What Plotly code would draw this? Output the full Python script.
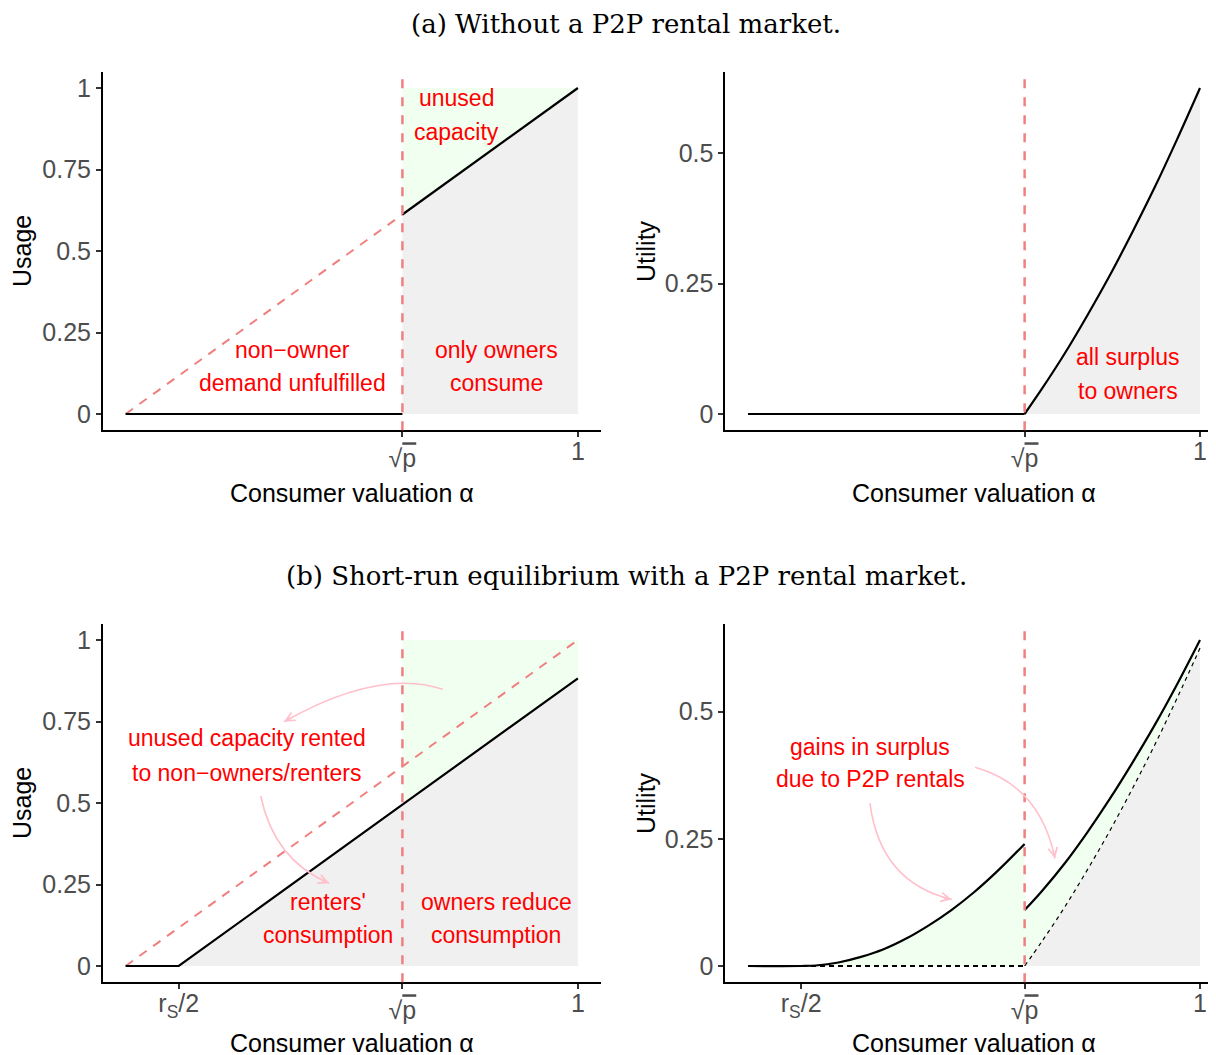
import math
import plotly.graph_objects as go

# page body adds an 8px margin; the figure is sized/positioned to compensate
OFF = 8
W, H = 1216 - OFF, 1055 - OFF

# ---------------- data ----------------
SQRT_P = 0.612        # position of the sqrt(p) tick
RS_HALF = 0.1175      # position of the r_S/2 tick
CAPACITY = 1.0

# (a) usage without P2P
usage_a_owner_x = [0.612, 1.0]
usage_a_owner_y = [0.612, 1.0]
usage_a_nonowner_x = [0.0, 0.612]
usage_a_nonowner_y = [0.0, 0.0]
demand_a_x = [0.0, 0.612]
demand_a_y = [0.0, 0.612]

# (a) utility without P2P
owner_alpha = [0.612, 0.65, 0.70, 0.75, 0.80, 0.85, 0.90, 0.95, 1.00]
owner_util_no_p2p = [0.0, 0.048, 0.115, 0.188, 0.265, 0.348, 0.435, 0.528, 0.625]
nonowner_util_x = [0.0, 0.612]
nonowner_util_y = [0.0, 0.0]

# (b) usage with P2P
usage_b_x = [0.0, 0.1175, 0.612, 1.0]
usage_b_y = [0.0, 0.0, 0.495, 0.8825]
demand_b_x = [0.0, 1.0]
demand_b_y = [0.0, 1.0]

# (b) utility with P2P
renter_alpha = [0.0, 0.1175, 0.15, 0.20, 0.25, 0.30, 0.35, 0.40, 0.45, 0.50, 0.55, 0.612]
renter_util = [0.0, 0.0, 0.001, 0.007, 0.018, 0.033, 0.054, 0.080, 0.110, 0.145, 0.185, 0.240]
owner_util_p2p = [0.110, 0.147, 0.201, 0.262, 0.328, 0.399, 0.474, 0.555, 0.641]

# tick labels
SQRT_P_LABEL = ("<span style='baseline-shift:-7px'>√"
                "<span style='text-decoration:overline'>p</span></span>")
x_ticks_a = [0.612, 1.0]
x_ticklabels_a = [SQRT_P_LABEL, "1"]
x_ticks_b = [0.1175, 0.612, 1.0]
x_ticklabels_b = ["r<sub>S</sub>/2", SQRT_P_LABEL, "1"]
y_ticks_usage = [0, 0.25, 0.5, 0.75, 1]
y_ticklabels_usage = ["0", "0.25", "0.5", "0.75", "1"]
y_ticks_util = [0, 0.25, 0.5]
y_ticklabels_util = ["0", "0.25", "0.5"]

# ---------------- styles ----------------
GREY_FILL = "#F0F0F0"
GREEN_FILL = "#F0FFF0"
RED_DASH = "#F08080"
PINK = "#FFC0CB"
SANS = "Liberation Sans"
SERIF = "DejaVu Serif"


def pxx(px):
    return (px - OFF) / W


def pxy(py):
    return 1 - (py - OFF) / H


# subplot geometry (paper fractions) and ranges
DOM_X_L = [pxx(103), pxx(600.5)]
DOM_X_R = [pxx(725.4), 1.0]
DOM_Y_T = [pxy(430.3), pxy(71.7)]
DOM_Y_B = [pxy(982.3), pxy(623.7)]
RNG_X_L = [-0.05, 1.05]
RNG_X_R = [-0.05, 1.0354]
RNG_Y_USAGE = [-0.05, 1.05]
RNG_Y_UTIL_A = [-0.03125, 0.65625]
RNG_Y_UTIL_B = [-0.032, 0.673]

fig = go.Figure()


def add(x, y, xa, ya, **kw):
    fig.add_trace(go.Scatter(x=x, y=y, xaxis=xa, yaxis=ya, hoverinfo="skip",
                             showlegend=False, **kw))


def fill(x, y, xa, ya, color):
    add(x, y, xa, ya, mode="lines", fill="toself", fillcolor=color,
        line=dict(width=0, color=color))


def black(x, y, xa, ya, width=2.2, dash="solid", shape="linear"):
    add(x, y, xa, ya, mode="lines", line=dict(color="black", width=width, dash=dash, shape=shape))


def reddash(x, y, xa, ya):
    add(x, y, xa, ya, mode="lines", line=dict(color=RED_DASH, width=2, dash="9px,8px"))


# ---- (a) left: usage ----
fill(usage_a_owner_x + usage_a_owner_x[::-1], usage_a_owner_y + [0.0, 0.0], "x", "y", GREY_FILL)
fill(usage_a_owner_x + [usage_a_owner_x[0]], usage_a_owner_y + [CAPACITY], "x", "y", GREEN_FILL)
reddash(demand_a_x, demand_a_y, "x", "y")
black(usage_a_nonowner_x, usage_a_nonowner_y, "x", "y")
black(usage_a_owner_x, usage_a_owner_y, "x", "y")

# ---- (a) right: utility ----
fill(owner_alpha + [owner_alpha[-1]], owner_util_no_p2p + [0.0], "x2", "y2", GREY_FILL)
black(nonowner_util_x, nonowner_util_y, "x2", "y2")
black(owner_alpha, owner_util_no_p2p, "x2", "y2", shape="spline")

# ---- (b) left: usage ----
fill(usage_b_x[1:] + [usage_b_x[-1]], usage_b_y[1:] + [0.0], "x3", "y3", GREY_FILL)
fill(usage_b_x[2:] + [usage_b_x[-1], usage_b_x[2]], usage_b_y[2:] + [CAPACITY, CAPACITY], "x3", "y3", GREEN_FILL)
reddash(demand_b_x, demand_b_y, "x3", "y3")
black(usage_b_x, usage_b_y, "x3", "y3")

# ---- (b) right: utility ----
fill(owner_alpha + [owner_alpha[-1]], owner_util_no_p2p + [0.0], "x4", "y4", GREY_FILL)
fill(renter_alpha[1:] + [renter_alpha[-1]], renter_util[1:] + [0.0], "x4", "y4", GREEN_FILL)
fill(owner_alpha + owner_alpha[::-1], owner_util_p2p + owner_util_no_p2p[::-1], "x4", "y4", GREEN_FILL)
black(nonowner_util_x, nonowner_util_y, "x4", "y4", width=2.2, dash="5px,4px")
black(owner_alpha, owner_util_no_p2p, "x4", "y4", width=1.2, dash="4px,4px", shape="spline")
black(renter_alpha, renter_util, "x4", "y4", shape="spline")
black(owner_alpha, owner_util_p2p, "x4", "y4", shape="spline")

# ---------------- axes ----------------
axis_common = dict(showgrid=False, zeroline=False, showline=True, linecolor="black",
                   linewidth=2, ticks="outside", ticklen=5, tickwidth=1.5,
                   tickcolor="#333333", fixedrange=True,
                   tickfont=dict(family=SANS, size=25, color="#4D4D4D"))
XSTAND = -7
YSTAND = 0

layout = dict(
    width=W, height=H, margin=dict(l=0, r=0, t=0, b=0),
    paper_bgcolor="white", plot_bgcolor="white", showlegend=False,
    xaxis=dict(axis_common, domain=DOM_X_L, range=RNG_X_L, anchor="y",
               tickvals=x_ticks_a, ticktext=x_ticklabels_a, ticklabelstandoff=XSTAND),
    yaxis=dict(axis_common, domain=DOM_Y_T, range=RNG_Y_USAGE, anchor="x",
               tickvals=y_ticks_usage, ticktext=y_ticklabels_usage, ticklabelstandoff=YSTAND),
    xaxis2=dict(axis_common, domain=DOM_X_R, range=RNG_X_R, anchor="y2",
                tickvals=x_ticks_a, ticktext=x_ticklabels_a, ticklabelstandoff=XSTAND),
    yaxis2=dict(axis_common, domain=DOM_Y_T, range=RNG_Y_UTIL_A, anchor="x2",
                tickvals=y_ticks_util, ticktext=y_ticklabels_util, ticklabelstandoff=YSTAND),
    xaxis3=dict(axis_common, domain=DOM_X_L, range=RNG_X_L, anchor="y3",
                tickvals=x_ticks_b, ticktext=x_ticklabels_b, ticklabelstandoff=XSTAND),
    yaxis3=dict(axis_common, domain=DOM_Y_B, range=RNG_Y_USAGE, anchor="x3",
                tickvals=y_ticks_usage, ticktext=y_ticklabels_usage, ticklabelstandoff=YSTAND),
    xaxis4=dict(axis_common, domain=DOM_X_R, range=RNG_X_R, anchor="y4",
                tickvals=x_ticks_b, ticktext=x_ticklabels_b, ticklabelstandoff=XSTAND),
    yaxis4=dict(axis_common, domain=DOM_Y_B, range=RNG_Y_UTIL_B, anchor="x4",
                tickvals=y_ticks_util, ticktext=y_ticklabels_util, ticklabelstandoff=YSTAND),
)
fig.update_layout(**layout)

shapes = []
for xa, ya in [("x", "y"), ("x2", "y2"), ("x3", "y3"), ("x4", "y4")]:
    shapes.append(dict(type="line", xref=xa, yref=ya + " domain", x0=SQRT_P, x1=SQRT_P,
                       y0=0, y1=1, line=dict(color=RED_DASH, width=2.5, dash="9px,9px"),
                       layer="above"))

# ---------------- text labels ----------------
annotations = []


def label(text, x, y, xa, ya, size=23, color="#FF0000"):
    annotations.append(dict(text=text, x=x, y=y, xref=xa, yref=ya, showarrow=False,
                            xanchor="center", yanchor="middle",
                            font=dict(family=SANS, size=size, color=color)))


label_specs = [
    ("unused", 0.732, 0.969, "x", "y"),
    ("capacity", 0.732, 0.865, "x", "y"),
    ("non−owner", 0.368, 0.196, "x", "y"),
    ("demand unfulfilled", 0.368, 0.095, "x", "y"),
    ("only owners", 0.820, 0.196, "x", "y"),
    ("consume", 0.820, 0.095, "x", "y"),
    ("all surplus", 0.841, 0.109, "x2", "y2"),
    ("to owners", 0.841, 0.044, "x2", "y2"),
    ("unused capacity rented", 0.268, 0.698, "x3", "y3"),
    ("to non−owners/renters", 0.268, 0.593, "x3", "y3"),
    ("renters'", 0.447, 0.197, "x3", "y3"),
    ("consumption", 0.447, 0.095, "x3", "y3"),
    ("owners reduce", 0.820, 0.197, "x3", "y3"),
    ("consumption", 0.820, 0.095, "x3", "y3"),
    ("gains in surplus", 0.270, 0.430, "x4", "y4"),
    ("due to P2P rentals", 0.270, 0.367, "x4", "y4"),
]
for t, x, y, xa, ya in label_specs:
    label(t, x, y, xa, ya)


# axis titles and row titles (reference pixel positions)
def paper_text(text, px, py, size=25, family=SANS, color="black", angle=0):
    annotations.append(dict(text=text, x=pxx(px), y=pxy(py), xref="paper", yref="paper",
                            showarrow=False, xanchor="center", yanchor="middle",
                            textangle=angle, font=dict(family=family, size=size, color=color)))


paper_text("Usage", 22, 251, angle=-90)
paper_text("Usage", 22, 803, angle=-90)
paper_text("Utility", 646, 251, angle=-90)
paper_text("Utility", 646, 803, angle=-90)
paper_text("Consumer valuation α", 352, 493)
paper_text("Consumer valuation α", 974, 493)
paper_text("Consumer valuation α", 352, 1043)
paper_text("Consumer valuation α", 974, 1043)
paper_text("(a) Without a P2P rental market.", 626, 24, size=26, family=SERIF)
paper_text("(b) Short-run equilibrium with a P2P rental market.", 626, 576, size=26, family=SERIF)

# ---------------- curved pink arrows ----------------
arrow_specs = [
    # subplot, start, control, end (data coordinates)
    ("x3", "y3", (0.7013, 0.8488), (0.5610, 0.9141), (0.3503, 0.7494)),
    ("x3", "y3", (0.2987, 0.5215), (0.3282, 0.3252), (0.4501, 0.2537)),
    ("x4", "y4", (0.2699, 0.3202), (0.2920, 0.1647), (0.4507, 0.1308)),
    ("x4", "y4", (0.5022, 0.3908), (0.6460, 0.3549), (0.6792, 0.2112)),
]
scales = {
    "x3": (DOM_X_L[1] - DOM_X_L[0]) * W / (RNG_X_L[1] - RNG_X_L[0]),
    "y3": (DOM_Y_B[1] - DOM_Y_B[0]) * H / (RNG_Y_USAGE[1] - RNG_Y_USAGE[0]),
    "x4": (DOM_X_R[1] - DOM_X_R[0]) * W / (RNG_X_R[1] - RNG_X_R[0]),
    "y4": (DOM_Y_B[1] - DOM_Y_B[0]) * H / (RNG_Y_UTIL_B[1] - RNG_Y_UTIL_B[0]),
}
for xa, ya, p0, c, p1 in arrow_specs:
    shapes.append(dict(type="path", xref=xa, yref=ya,
                       path=f"M {p0[0]},{p0[1]} Q {c[0]},{c[1]} {p1[0]},{p1[1]}",
                       line=dict(color=PINK, width=1.6), layer="above"))
    dx = (p1[0] - c[0]) * scales[xa]
    dy = -(p1[1] - c[1]) * scales[ya]
    n = math.hypot(dx, dy)
    L = 10
    annotations.append(dict(text="", x=p1[0], y=p1[1], xref=xa, yref=ya,
                            showarrow=True, ax=-dx / n * L, ay=-dy / n * L,
                            arrowhead=5, arrowsize=1.1, arrowwidth=1.6,
                            arrowcolor=PINK, standoff=0))

fig.update_layout(shapes=shapes, annotations=annotations)
fig.write_html("out.html")
